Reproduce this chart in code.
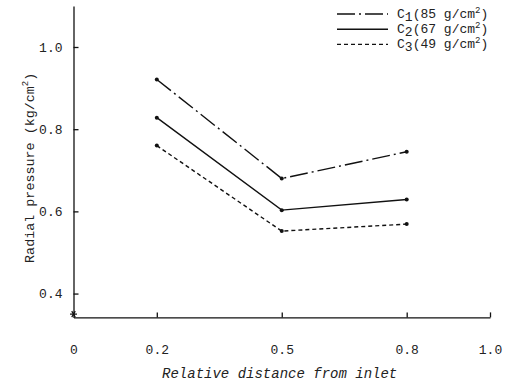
<!DOCTYPE html>
<html>
<head>
<meta charset="utf-8">
<script src="https://cdn.jsdelivr.net/npm/d3@7"></script>
<style>
  body { margin: 0; background: #fff; }
  text { font-family: "Liberation Mono", "DejaVu Sans Mono", monospace; fill: #222; }
</style>
</head>
<body>
<div id="wrapper"></div>
<script>
// data
const distances = [0.2, 0.5, 0.8];
const c1Values = [0.921, 0.68, 0.745];
const c2Values = [0.828, 0.603, 0.629];
const c3Values = [0.76, 0.552, 0.569];
const seriesNames = ["C1", "C2", "C3"];
const seriesLoads = ["85", "67", "49"];
const xTicks = [0, 0.2, 0.5, 0.8, 1.0];
const yTicks = [0.4, 0.6, 0.8, 1.0];
const originMark = 0.35;

function drawChart() {
  const width = 506;
  const height = 385;
  const dimensions = {
    left: 73.5,
    right: 490,
    top: 5.9,
    bottom: 317.4,
  };

  const svg = d3
    .select("#wrapper")
    .append("svg")
    .attr("width", width)
    .attr("height", height);

  const x = d3
    .scaleLinear()
    .domain([0, 1])
    .range([dimensions.left, dimensions.right]);
  const y = d3
    .scaleLinear()
    .domain([0.342, 1.1])
    .range([dimensions.bottom, dimensions.top]);

  // axes
  const xAxis = svg
    .append("g")
    .attr("transform", `translate(0,${dimensions.bottom})`)
    .call(
      d3
        .axisBottom(x)
        .tickValues(xTicks)
        .tickSizeInner(-5)
        .tickSizeOuter(0)
        .tickFormat((d) => (d === 0 ? "0" : d3.format(".1f")(d)))
    );
  xAxis.selectAll("text").attr("y", 32).attr("dy", "0.35em").attr("font-size", 13);
  xAxis.selectAll(".tick").filter((d) => d === 0).select("line").remove();

  const yAxis = svg
    .append("g")
    .attr("transform", `translate(${dimensions.left},0)`)
    .call(
      d3
        .axisLeft(y)
        .tickValues(yTicks)
        .tickSizeInner(-5)
        .tickSizeOuter(0)
        .tickPadding(11)
        .tickFormat(d3.format(".1f"))
    );
  yAxis.selectAll("text").attr("font-size", 13);

  svg.selectAll(".domain, .tick line").attr("stroke", "#111").attr("stroke-width", 1.3);
  svg.selectAll(".tick text").attr("font-family", null).attr("fill", "#333");

  // little star on the y axis
  const star = svg
    .append("g")
    .attr("transform", `translate(${x(0)},${y(originMark)})`)
    .attr("stroke", "#111")
    .attr("stroke-width", 1.2);
  [0, 60, 120].forEach((a) => {
    star
      .append("line")
      .attr("x1", -3.5)
      .attr("x2", 3.5)
      .attr("transform", `rotate(${a})`);
  });

  // axis titles
  svg
    .append("text")
    .attr("x", x(0.495))
    .attr("y", 378)
    .attr("text-anchor", "middle")
    .attr("font-size", 14)
    .attr("font-style", "italic")
    .text("Relative distance from inlet");

  const yTitle = svg
    .append("text")
    .attr("transform", `translate(34,${y(0.706)}) rotate(-90)`)
    .attr("text-anchor", "middle")
    .attr("font-size", 13.4)
    .attr("fill", "#555");
  yTitle.append("tspan").text("Radial pressure (kg/cm");
  yTitle.append("tspan").attr("font-size", 9).attr("dy", -6).text("2");
  yTitle.append("tspan").attr("dy", 6).text(")");

  // series
  const series = [c1Values, c2Values, c3Values];
  const dashes = ["18,4,2,4", null, "4,3"];

  const line = d3
    .line()
    .x((d, i) => x(distances[i]))
    .y((d) => y(d));

  series.forEach((values, k) => {
    svg
      .append("path")
      .attr("d", line(values))
      .attr("fill", "none")
      .attr("stroke", "#111")
      .attr("stroke-width", 1.4)
      .attr("stroke-dasharray", dashes[k]);

    svg
      .append("g")
      .selectAll("circle")
      .data(values)
      .join("circle")
      .attr("cx", (d, i) => x(distances[i]))
      .attr("cy", (d) => y(d))
      .attr("r", 2)
      .attr("fill", "#111");
  });

  // legend
  const legend = svg
    .append("g")
    .selectAll("g")
    .data(seriesNames)
    .join("g")
    .attr("transform", (d, i) => `translate(337, ${14 + 15.2 * i})`);

  legend
    .append("line")
    .attr("x1", 0)
    .attr("x2", 51)
    .attr("stroke", "#111")
    .attr("stroke-width", 1.4)
    .attr("stroke-dasharray", (d, i) => dashes[i]);

  const legendText = legend
    .append("text")
    .attr("x", 60)
    .attr("y", 4)
    .attr("font-size", 13);
  legendText.append("tspan").text("C");
  legendText.append("tspan").attr("dy", 3).text((d) => d.slice(1));
  legendText
    .append("tspan")
    .attr("dy", -3)
    .text((d, i) => `(${seriesLoads[i]} g/cm`);
  legendText.append("tspan").attr("font-size", 9).attr("dy", -5).text("2");
  legendText.append("tspan").attr("dy", 5).text(")");
}

drawChart();
</script>
</body>
</html>
